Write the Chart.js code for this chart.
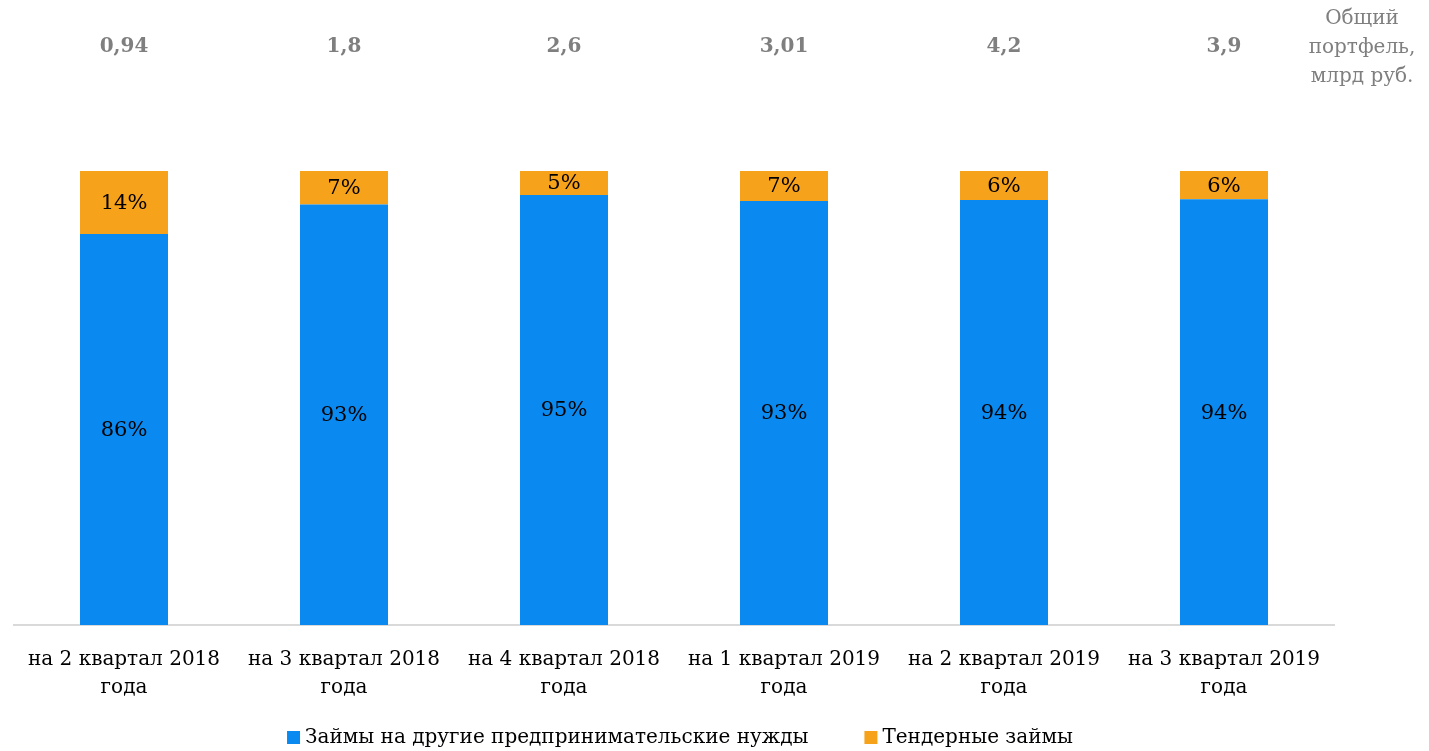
<!DOCTYPE html>
<html>
<head>
<meta charset="utf-8">
<script src="https://cdn.jsdelivr.net/npm/chart.js@4"></script>
<style>
  body { margin: 0; background: #fff; }
  #wrap { width: 1429px; height: 751px; position: relative; }
</style>
</head>
<body>
<div id="wrap"><canvas id="shareChart"></canvas></div>
<script>
// Data
const categories = [
  ['на 2 квартал 2018', 'года'],
  ['на 3 квартал 2018', 'года'],
  ['на 4 квартал 2018', 'года'],
  ['на 1 квартал 2019', 'года'],
  ['на 2 квартал 2019', 'года'],
  ['на 3 квартал 2019', 'года']
];
const otherLoans = [86.1, 92.6, 94.7, 93.4, 93.6, 93.8];
const tenderLoans = [13.9, 7.4, 5.3, 6.6, 6.4, 6.2];
const portfolioTotals = ['0,94', '1,8', '2,6', '3,01', '4,2', '3,9'];
const portfolioTitle = ['Общий', 'портфель,', 'млрд руб.'];

const FONT = '"DejaVu Serif", serif';

// Percent labels inside the bars, totals above, legend below
const labelsPlugin = {
  id: 'labelsPlugin',
  afterDatasetsDraw(chart) {
    const ctx = chart.ctx;
    ctx.save();
    ctx.textAlign = 'center';
    ctx.textBaseline = 'middle';
    ctx.font = '21px ' + FONT;
    ctx.fillStyle = '#000';
    chart.data.datasets.forEach((ds, i) => {
      chart.getDatasetMeta(i).data.forEach((bar, j) => {
        const mid = (bar.y + bar.base) / 2;
        ctx.fillText(Math.round(ds.data[j]) + '%', bar.x, mid + 1);
      });
    });

    // totals row
    const xScale = chart.scales.x;
    ctx.fillStyle = '#7f7f7f';
    ctx.font = 'bold 20px ' + FONT;
    portfolioTotals.forEach((t, j) => {
      ctx.fillText(t, xScale.getPixelForValue(j), 47);
    });
    ctx.font = '20px ' + FONT;
    portfolioTitle.forEach((line, k) => {
      ctx.fillText(line, 1362, 19 + k * 29);
    });

    // legend
    ctx.font = '20px ' + FONT;
    ctx.textAlign = 'left';
    const items = chart.data.datasets.map(ds => ({
      text: ds.label, color: ds.backgroundColor, w: ctx.measureText(ds.label).width
    }));
    const box = 13, gap = 5, spacing = 56;
    let total = 0;
    items.forEach((it, k) => { total += box + gap + it.w + (k ? spacing : 0); });
    let x = 680 - total / 2;
    const y = 737;
    items.forEach((it, k) => {
      if (k) x += spacing;
      ctx.fillStyle = it.color;
      ctx.fillRect(x, y - 6, box, box);
      x += box + gap;
      ctx.fillStyle = '#000';
      ctx.fillText(it.text, x, y + 1);
      x += it.w;
    });
    ctx.restore();
  }
};

const ctx = document.getElementById('shareChart').getContext('2d');
new Chart(ctx, {
  type: 'bar',
  data: {
    labels: categories,
    datasets: [{
      label: 'Займы на другие предпринимательские нужды',
      data: otherLoans,
      backgroundColor: '#0a8af0',
      barPercentage: 0.4,
      categoryPercentage: 1
    }, {
      label: 'Тендерные займы',
      data: tenderLoans,
      backgroundColor: '#f7a21b',
      barPercentage: 0.4,
      categoryPercentage: 1
    }]
  },
  options: {
    responsive: true,
    maintainAspectRatio: false,
    animation: false,
    layout: { padding: { left: 14, right: 95, top: 171, bottom: 28 } },
    plugins: {
      legend: { display: false },
      tooltip: { enabled: false }
    },
    scales: {
      x: {
        stacked: true,
        grid: { display: false, drawTicks: false },
        border: { color: '#d9d9d9', width: 2 },
        ticks: {
          font: { family: FONT, size: 20, lineHeight: 1.4 },
          color: '#000',
          maxRotation: 0,
          padding: 21
        }
      },
      y: {
        stacked: true,
        display: false,
        min: 0,
        max: 100
      }
    }
  },
  plugins: [labelsPlugin]
});
</script>
</body>
</html>
